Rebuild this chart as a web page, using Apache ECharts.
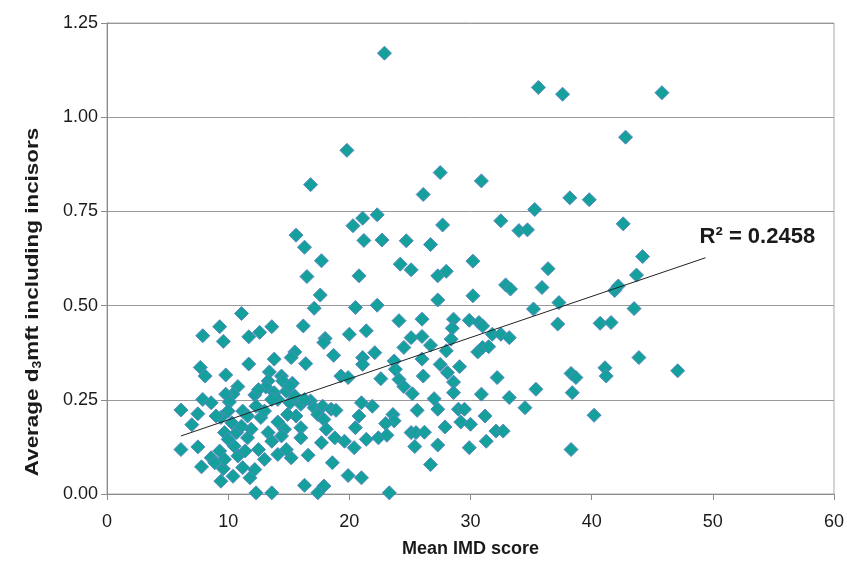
<!DOCTYPE html>
<html><head><meta charset="utf-8">
<script src="https://cdn.jsdelivr.net/npm/echarts@6/dist/echarts.min.js"></script>
<style>html,body{margin:0;padding:0;background:#fff}#c{width:847px;height:568px}</style>
</head><body><div id="c"></div>
<script>
const imdScore = [15.6,16.3,17.7,16.5,17.6,17.1,11.1,9.3,7.9,9.6,11.7,12.6,13.6,16.2,18.0,17.9,20.0,18.7,15.5,15.2,16.4,13.8,11.7,7.7,8.1,9.8,13.4,13.3,14.4,15.3,19.3,19.9,10.8,10.4,9.8,7.9,8.6,12.2,13.1,13.8,14.8,14.1,15.1,16.0,16.8,17.1,17.8,18.5,18.9,6.1,7.5,7.0,10.1,10.0,11.2,9.4,10.3,11.6,12.7,14.1,14.65,15.6,16.0,17.4,17.9,18.1,18.8,9.7,11.9,13.3,11.6,13.6,16.0,17.7,19.6,6.1,7.5,8.6,9.3,10.5,10.8,11.4,12.5,13.0,14.1,15.2,16.6,18.6,7.8,9.6,10.4,11.2,12.2,11.8,9.4,19.9,16.3,17.9,17.4,12.3,13.6,12.5,9.0,14.5,15.1,13.6,15.5,16.3,12.3,13.0,14.9,10.7,11.1,10.0,9.7,8.9,14.4,14.8,
19.8,16.8,20.3,21.1,22.3,27.7,26.1,27.5,
21.2,22.7,24.7,26.7,34.0,34.7,24.2,25.1,27.3,28.0,30.2,36.4,32.9,33.3,35.9,20.8,27.3,30.2,22.3,20.5,35.2,37.3,41.9,42.2,24.1,26.0,28.6,29.9,30.7,31.0,28.5,21.4,25.1,26.0,28.4,31.8,32.5,33.2,37.2,40.7,26.7,24.5,22.1,28.0,30.6,31.0,31.5,26.0,23.7,21.1,21.1,27.5,29.1,23.8,28.1,22.6,26.1,28.6,32.2,24.1,24.5,25.2,28.6,30.9,33.2,35.4,38.3,38.7,38.4,41.1,41.2,27.0,21.9,21.0,25.6,27.3,29.0,29.5,31.2,34.5,40.2,20.8,23.6,23.7,23.0,20.5,29.2,30.0,27.9,25.1,25.5,26.2,32.1,32.7,21.4,22.4,23.1,25.4,27.3,29.9,31.3,38.3,26.7,21.0,20.4,23.3,
22.9,35.6,37.6,45.8,42.8,30.9,38.2,39.8,35.3,32.5,42.6,44.2,43.7,41.6,43.9,43.5,47.1];
const d3mft = [0.687,0.655,0.619,0.577,0.528,0.493,0.479,0.444,0.420,0.405,0.417,0.429,0.444,0.446,0.413,0.402,0.424,0.368,0.377,0.362,0.346,0.358,0.345,0.336,0.313,0.316,0.324,0.300,0.313,0.294,0.313,0.309,0.285,0.265,0.265,0.251,0.242,0.263,0.284,0.269,0.273,0.251,0.242,0.238,0.247,0.229,0.233,0.225,0.222,0.223,0.213,0.184,0.244,0.220,0.220,0.203,0.189,0.207,0.203,0.191,0.172,0.207,0.176,0.211,0.198,0.172,0.149,0.163,0.172,0.163,0.149,0.140,0.149,0.136,0.140,0.118,0.125,0.096,0.114,0.127,0.101,0.114,0.118,0.092,0.105,0.096,0.103,0.083,0.072,0.067,0.047,0.070,0.065,0.043,0.034,0.049,0.023,0.021,0.003,0.003,0.003,0.277,0.207,0.300,0.287,0.251,0.260,0.251,0.233,0.220,0.211,0.163,0.180,0.145,0.092,0.083,0.154,0.118,
0.912,0.821,0.712,0.732,0.741,0.714,0.795,0.853,
0.673,0.674,0.672,0.662,0.699,0.701,0.610,0.595,0.579,0.591,0.618,0.598,0.555,0.544,0.548,0.579,0.515,0.526,0.501,0.495,0.491,0.508,0.540,0.552,0.460,0.464,0.464,0.461,0.455,0.446,0.440,0.433,0.415,0.418,0.411,0.424,0.424,0.415,0.451,0.453,0.395,0.389,0.375,0.380,0.377,0.389,0.391,0.358,0.353,0.362,0.344,0.344,0.338,0.331,0.322,0.306,0.313,0.297,0.309,0.304,0.285,0.266,0.269,0.265,0.256,0.278,0.320,0.309,0.269,0.335,0.313,0.253,0.233,0.242,0.222,0.225,0.225,0.225,0.207,0.229,0.209,0.207,0.211,0.194,0.187,0.176,0.191,0.185,0.178,0.163,0.163,0.164,0.167,0.167,0.145,0.149,0.156,0.126,0.130,0.123,0.140,0.118,0.078,0.043,0.123,0.003,
1.170,1.079,1.061,1.065,0.947,0.831,0.786,0.781,0.755,0.725,0.717,0.630,0.581,0.455,0.362,0.492,0.327];
const trendX = [6.1, 49.4];
const trendY = [0.154, 0.627];
const xTicks = [0, 10, 20, 30, 40, 50, 60];
const yTicks = [0, 0.25, 0.5, 0.75, 1.0, 1.25];
const r2Label = 'R² = 0.2458';

const points = imdScore.map((x, i) => [x, d3mft[i]]);
const trend = trendX.map((x, i) => [x, trendY[i]]);
const font = 'Liberation Sans, Arial, sans-serif';

const chart = echarts.init(document.getElementById('c'), null, {renderer: 'canvas'});
chart.setOption({
  animation: false,
  backgroundColor: '#fff',
  grid: {left: 107, right: 13, top: 23, bottom: 74, show: true, borderColor: '#aaa', borderWidth: 1},
  xAxis: {
    type: 'value', min: xTicks[0], max: xTicks[xTicks.length - 1], interval: 10,
    axisLine: {show: true, lineStyle: {color: '#8c8c8c', width: 1}},
    axisTick: {show: true, inside: false, length: 6, lineStyle: {color: '#8c8c8c'}},
    splitLine: {show: false},
    axisLabel: {fontFamily: font, fontSize: 18, color: '#1a1a1a', margin: 19},
    name: 'Mean IMD score', nameLocation: 'middle', nameGap: 46,
    nameTextStyle: {fontFamily: font, fontSize: 18, fontWeight: 'bold', color: '#1a1a1a'}
  },
  yAxis: {
    type: 'value', min: yTicks[0], max: yTicks[yTicks.length - 1], interval: 0.25,
    axisLine: {show: true, lineStyle: {color: '#8c8c8c', width: 1}},
    axisTick: {show: true, inside: false, length: 6, lineStyle: {color: '#8c8c8c'}},
    splitLine: {show: true, lineStyle: {color: '#999', width: 1}},
    axisLabel: {fontFamily: font, fontSize: 18, color: '#1a1a1a', margin: 9, formatter: v => v.toFixed(2)}
  },
  graphic: [{
    type: 'text', x: 33, y: 302, rotation: Math.PI / 2, scaleX: 1.18, scaleY: 1,
    style: {
      text: 'Average d{sub|3}mft including incisors',
      font: 'bold 19px ' + font, fill: '#1a1a1a',
      textAlign: 'center', textVerticalAlign: 'middle',
      rich: {sub: {font: 'bold 12px ' + font, fill: '#1a1a1a', verticalAlign: 'bottom', padding: [9, 0, 0, 0]}}
    }
  }],
  series: [{
    type: 'line', data: trend, showSymbol: false, symbol: 'none',
    lineStyle: {color: '#222', width: 1},
    silent: true, z: 3,
    endLabel: {show: true, formatter: r2Label, offset: [-14, -21],
      fontFamily: font, fontSize: 22, fontWeight: 'bold', color: '#1a1a1a'}
  }, {
    type: 'scatter', data: points, symbol: 'diamond', symbolSize: 14,
    itemStyle: {color: '#14a19b', borderColor: '#5b86c4', borderWidth: 1, opacity: 1},
    z: 2
  }]
});
</script></body></html>
